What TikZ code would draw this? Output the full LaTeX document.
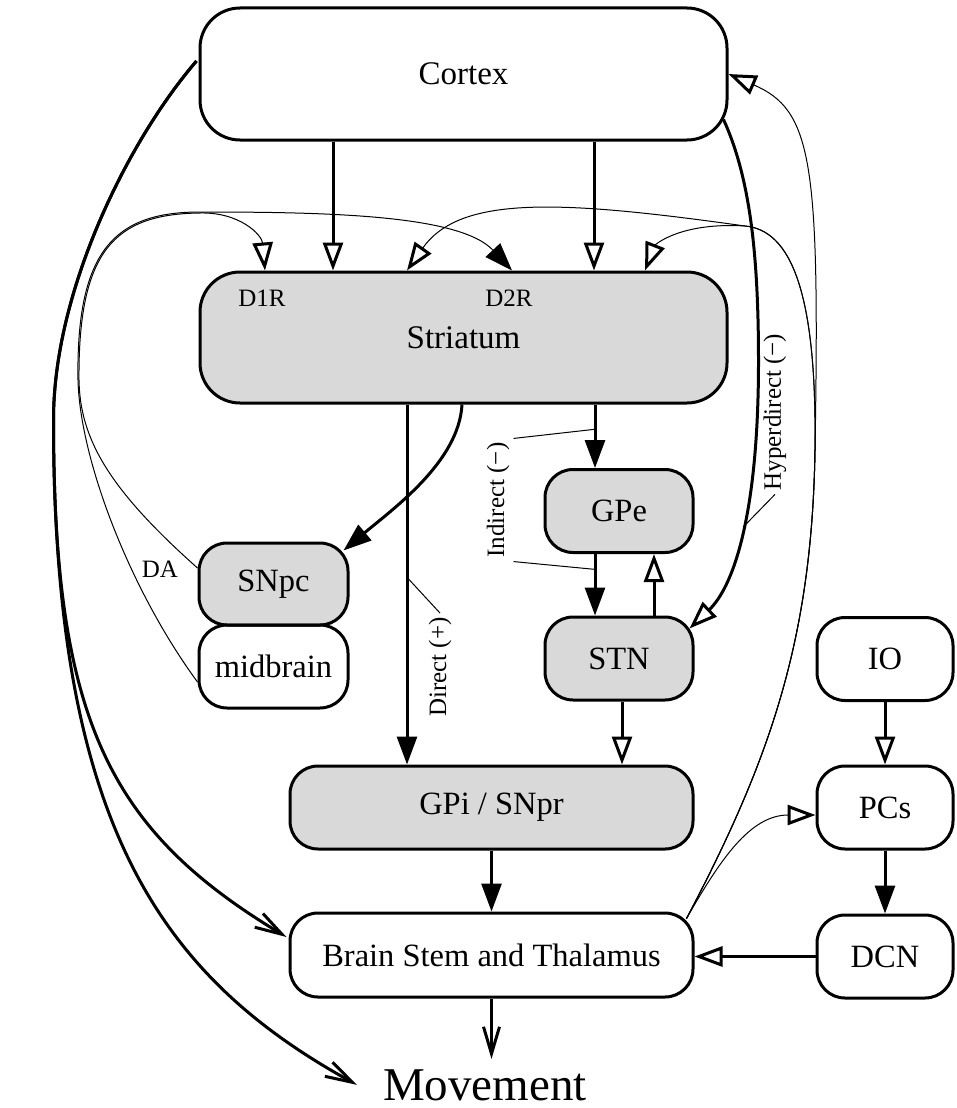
\documentclass[tikz,border=0pt]{standalone}
\usepackage{fontspec}
\setmainfont{Liberation Serif}
\usetikzlibrary{arrows.meta,calc}

\begin{document}
\begin{tikzpicture}[x=1pt,y=-1pt,
  bigbox/.style={draw, line width=3pt, rounded corners=40pt, inner sep=0pt,
    font=\fontsize{33}{38}\selectfont},
  smallbox/.style={draw, line width=3pt, rounded corners=28pt, inner sep=0pt,
    font=\fontsize{32.5}{38}\selectfont, minimum height=83pt},
  shaded/.style={fill=gray!30},
  lbl/.style={inner sep=4pt, font=\fontsize{25}{30}\selectfont},
  heavy/.style={line width=3pt},
  fine/.style={line width=1pt},
  fillhead/.style={-{Triangle[length=28pt,width=20pt]}},
  openhead/.style={-{Triangle[open,length=28pt,width=20pt,line width=3pt]}},
  veehead/.style={-{Straight Barb[length=27pt,width=16pt,line width=3pt]}}
]
\fill[white] (0,0) rectangle (956,1108);
\useasboundingbox (0,0) rectangle (956,1108);

% ---------- nodes ----------
\node[bigbox, minimum width=527pt, minimum height=132pt] (cortex) at (463.5,74) {Cortex};
\node[bigbox, shaded, minimum width=527pt, minimum height=131pt] (striatum) at (463.5,337.5) {Striatum};
\node[lbl] (d1r) at (262,298) {D1R};
\node[lbl] (d2r) at (509,298) {D2R};

\node[smallbox, shaded, minimum width=148pt] (gpe) at (619,511) {GPe};
\node[smallbox, shaded, minimum width=148pt] (stn) at (619,658.5) {STN};
\node[smallbox, shaded, minimum width=149pt, minimum height=82pt] (snpc) at (273.5,584) {SNpc};
\node[smallbox, minimum width=149pt] (midbrain) at (273.5,666.5) {midbrain};

\node[smallbox, minimum width=136pt] (io) at (885,659) {IO};
\node[smallbox, minimum width=136pt] (pcs) at (885,807.5) {PCs};
\node[smallbox, minimum width=136pt] (dcn) at (885,956.5) {DCN};

\node[smallbox, shaded, minimum width=403pt] (gpi) at (491.5,807.5) {GPi / SNpr};
\node[smallbox, minimum width=403pt, minimum height=84pt] (bst) at (491.5,955) {Brain Stem and Thalamus};

\node[anchor=base, inner xsep=26pt, inner ysep=10pt, font=\fontsize{47}{56}\selectfont]
  (movement) at (485,1100) {Movement};

% ---------- cortical inputs to the striatum ----------
\draw[heavy, openhead] ([xshift=-130.5pt]cortex.south) -- ([xshift=-130.5pt]striatum.north);
\draw[heavy, openhead] ([xshift=130.5pt]cortex.south) -- ([xshift=130.5pt]striatum.north);

% ---------- direct pathway ----------
\coordinate (dirout) at ([xshift=-56.5pt]striatum.south);
\draw[heavy, fillhead] (dirout) -- coordinate[pos=0.48] (dirpt) (dirout |- gpi.north);

% ---------- striatum to SNpc ----------
\draw[heavy, fillhead] ([xshift=-1.5pt]striatum.south)
  .. controls +(-3,57) and +(50,-42) .. ($(snpc.north east)+(-6,9)$);

% ---------- indirect pathway ----------
\coordinate (gpein) at ([xshift=-24pt]gpe.north);
\draw[heavy, fillhead] (gpein |- striatum.south) -- coordinate[pos=0.39] (indpta) (gpein);
\coordinate (stnin) at ([xshift=-24pt]stn.north);
\draw[heavy, fillhead] (stnin |- gpe.south) -- coordinate[pos=0.25] (indptb) (stnin);
\coordinate (gpeback) at ([xshift=35pt]gpe.south);
\draw[heavy, openhead] (gpeback |- stn.north) -- (gpeback);
\coordinate (gpiin) at ([xshift=130.5pt]gpi.north);
\draw[heavy, openhead] (gpiin |- stn.south) -- (gpiin);

% ---------- hyperdirect pathway ----------
\draw[heavy, openhead] ($(cortex.south east)+(-5,-22)$)
  .. controls +(26,57) and +(0,-110) .. ++(35,242)
  .. controls +(0,160) and +(42,-40) .. coordinate[pos=0.45] (hyppt)
  ($(stn.north east)+(-5,13)$);

% ---------- cerebellar loop ----------
\draw[heavy, openhead] (io) -- (pcs);
\draw[heavy, fillhead] (pcs) -- (dcn);
\draw[heavy, openhead] (dcn.west) -- (dcn.west -| bst.east);

% ---------- output ----------
\draw[heavy, fillhead] (gpi) -- (bst);
\draw[heavy, veehead] (bst.south) -- (bst.south |- movement.north);

% ---------- cortex to brain stem and movement ----------
\coordinate (cx) at ($(cortex.west)+(-2,-13)$);
\draw[heavy, veehead] (cx) .. controls +(-68,79) and +(0,-130) .. ++(-143,359)
  .. controls +(0,300) and +(-178,-107) .. ($(bst.west)+(-2,-18)$);
\draw[heavy, veehead] (cx) .. controls +(-68,79) and +(0,-130) .. ++(-143,359)
  .. controls +(0,400) and +(-200,-110) .. (movement.west);

% ---------- thalamic feedback ----------
\coordinate (thal) at ($(bst.north east)+(-8,7)$);
\draw[fine, openhead] (thal) .. controls (770,760) and (812,640) .. (815,450)
  .. controls (820,160) and (812,110) .. (cortex.east);
\draw[fine, openhead] (thal) .. controls (770,760) and (812,640) .. (815,450)
  .. controls (817,290) and (790,230) .. (745,226)
  .. controls (680,222) and (655,245) .. ([xshift=181.5pt]striatum.north);
\draw[fine, openhead] (thal) .. controls (770,760) and (812,640) .. (815,450)
  .. controls (817,290) and (790,230) .. (745,226)
  .. controls (560,200) and (460,195) .. ([xshift=-56.5pt]striatum.north);
\draw[fine, openhead] (thal) .. controls (720,860) and (750,815) .. ($(pcs.west)+(0,7.5)$);

% ---------- dopamine projections ----------
\draw[fine, openhead] ($(snpc.west)+(0,-16)$)
  .. controls (110,490) and (80,440) .. (79,380)
  .. controls (78,250) and (115,214) .. (200,213)
  .. controls (240,212) and (262,235) .. ([xshift=-198.5pt]striatum.north);
\draw[fine, fillhead] ($(midbrain.west)+(0,15.5)$)
  .. controls (130,590) and (80,460) .. (78,380)
  .. controls (76,250) and (115,212) .. (200,212)
  .. controls (330,212) and (460,215) .. ([xshift=48.5pt]striatum.north);
\node[lbl] (da) at (160,569) {DA};

% ---------- pathway labels ----------
\node[lbl, rotate=90] (lbldirect) at (440,667) {Direct (+)};
\draw[fine] (lbldirect.east) -- (dirpt);
\node[lbl, rotate=90] (lblindirect) at (498,500) {Indirect (−)};
\draw[fine] (lblindirect.south east) -- (indpta);
\draw[fine] (lblindirect.south west) -- (indptb);
\node[lbl, rotate=90] (lblhyper) at (775,412) {Hyperdirect (−)};
\draw[fine] (lblhyper.west) -- (hyppt);
\end{tikzpicture}
\end{document}
